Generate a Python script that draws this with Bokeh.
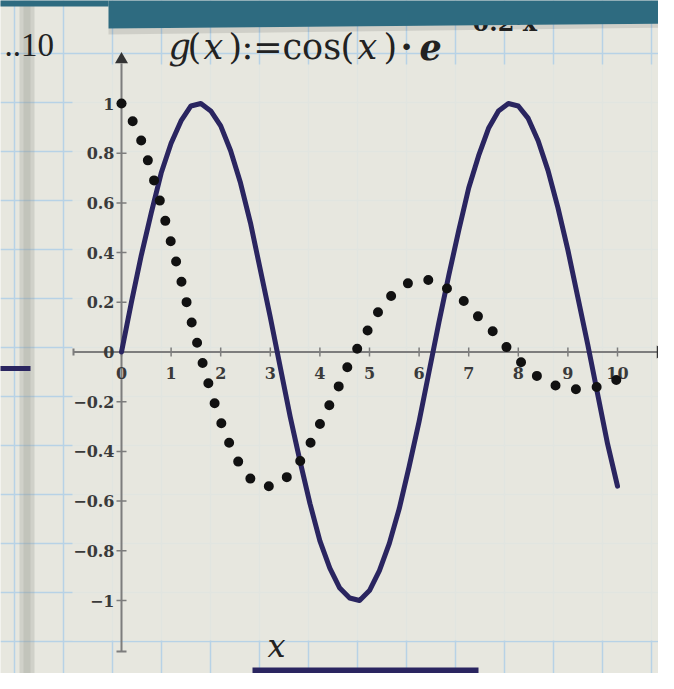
import numpy as np
from bokeh.plotting import figure
from bokeh.models import Range1d
from bokeh.core.properties import value
from bokeh.embed import file_html
from bokeh.resources import INLINE

# ---------------- data ----------------
x_vals = [0.0, 0.2, 0.4, 0.6, 0.8, 1.0, 1.2, 1.4, 1.6, 1.8,
          2.0, 2.2, 2.4, 2.6, 2.8, 3.0, 3.2, 3.4, 3.6, 3.8,
          4.0, 4.2, 4.4, 4.6, 4.8, 5.0, 5.2, 5.4, 5.6, 5.8,
          6.0, 6.2, 6.4, 6.6, 6.8, 7.0, 7.2, 7.4, 7.6, 7.8,
          8.0, 8.2, 8.4, 8.6, 8.8, 9.0, 9.2, 9.4, 9.6, 9.8, 10.0]
solid_vals = [0.00, 0.20, 0.39, 0.56, 0.72, 0.84, 0.93, 0.99, 1.00, 0.97,
              0.91, 0.81, 0.68, 0.52, 0.33, 0.14, -0.06, -0.26, -0.44, -0.61,
              -0.76, -0.87, -0.95, -0.99, -1.00, -0.96, -0.88, -0.77, -0.63, -0.46,
              -0.28, -0.08, 0.12, 0.31, 0.49, 0.66, 0.79, 0.90, 0.97, 1.00,
              0.99, 0.94, 0.85, 0.73, 0.58, 0.41, 0.22, 0.03, -0.17, -0.37, -0.54]
dotted_vals = [1.00, 0.94, 0.85, 0.73, 0.59, 0.44, 0.29, 0.13, -0.02, -0.16,
               -0.28, -0.38, -0.46, -0.51, -0.54, -0.54, -0.53, -0.49, -0.44, -0.37,
               -0.29, -0.21, -0.13, -0.04, 0.03, 0.10, 0.17, 0.22, 0.25, 0.28,
               0.29, 0.29, 0.28, 0.25, 0.22, 0.19, 0.14, 0.10, 0.06, 0.01,
               -0.03, -0.07, -0.10, -0.12, -0.14, -0.15, -0.15, -0.15, -0.14, -0.13, -0.11]
x_ticks = [0, 1, 2, 3, 4, 5, 6, 7, 8, 9, 10]
x_tick_labels = ["0", "1", "2", "3", "4", "5", "6", "7", "8", "9", "10"]
y_ticks = [1.0, 0.8, 0.6, 0.4, 0.2, 0.0, -0.2, -0.4, -0.6, -0.8, -1.0]
y_tick_labels = ["1", "0.8", "0.6", "0.4", "0.2", "0", "\u22120.2", "\u22120.4",
                 "\u22120.6", "\u22120.8", "\u22121"]

# ---------------- layout helpers ----------------
W, H = 658, 673
X0, SX = 121.0, 49.6     # reference pixel of x=0, pixels per unit
Y0, SY = 351.5, 248.5    # reference pixel of y=0, pixels per unit


def fx(px):
    return (px - X0) / SX


def fy(py):
    return (Y0 - py) / SY


PAPER = "#e7e7df"
GRIDC = "#b7d2e6"
NAVY = "#2a2560"
AXC = "#7d7d7d"
LBL = "#3a3a3a"
INK = "#222222"
SERIF = value("DejaVu Serif")

p = figure(width=W, height=H, output_backend="svg", toolbar_location=None,
           x_range=Range1d(fx(0), fx(W)), y_range=Range1d(fy(H), fy(0)),
           x_axis_location=None, y_axis_location=None, min_border=0)
p.grid.visible = False
p.outline_line_color = None
p.background_fill_color = PAPER
p.border_fill_color = PAPER

# graph-paper grid
gx = np.arange(14, 700, 49.0)
gy = np.arange(4, 700, 49.0)
p.segment(x0=[fx(v) for v in gx], y0=fy(0), x1=[fx(v) for v in gx], y1=fy(700),
          line_color=GRIDC, line_width=1.5)
p.segment(x0=fx(0), y0=[fy(v) for v in gy], x1=fx(700), y1=[fy(v) for v in gy],
          line_color=GRIDC, line_width=1.5)

# left shadow band of the sheet
p.quad(left=fx(19), right=fx(34), top=fy(0), bottom=fy(700),
       fill_color="#9d9e97", fill_alpha=0.30, line_color=None)
p.quad(left=fx(23), right=fx(30), top=fy(0), bottom=fy(700),
       fill_color="#8e8f88", fill_alpha=0.20, line_color=None)

# plot region (hides most of the grid)
p.quad(left=fx(72), right=fx(672), top=fy(64), bottom=fy(640),
       fill_color=PAPER, fill_alpha=0.88, line_color=None)

# exponent (mostly hidden by the banner)
p.text(x=[fx(452)], y=[fy(22)], text=["\u22120.2\u00b7x"], text_font=SERIF,
       text_font_size="24px", text_font_style="bold", text_color=INK,
       text_align="left", text_baseline="middle")

# teal banner on top
p.patch(x=[fx(108), fx(680), fx(680), fx(108)], y=[fy(-5), fy(-5), fy(23), fy(28)],
        fill_color="#2e6b80", line_color=None)
p.patch(x=[fx(108), fx(680), fx(680), fx(108)], y=[fy(28), fy(23), fy(27), fy(34)],
        fill_color="#000000", fill_alpha=0.10, line_color=None)
p.patch(x=[fx(-5), fx(108), fx(108), fx(-5)], y=[fy(-5), fy(-5), fy(6), fy(6)],
        fill_color="#2e6b80", line_color=None)

# title g(x) := cos(x)·e
pieces = [("g", 168, "italic"), ("(", 187, "normal"), ("x", 203, "italic"),
          (")", 228, "normal"), (":=", 241, "normal"), ("cos", 282, "normal"),
          ("(", 340, "normal"), ("x", 357, "italic"), (")", 383, "normal"),
          ("\u00b7", 400, "bold"), ("e", 419, "bold italic")]
for t, px, st in pieces:
    p.text(x=[fx(px)], y=[fy(46)], text=[t], text_font=SERIF, text_font_size="35px",
           text_font_style=st, text_color=INK, text_align="left",
           text_baseline="middle")

# "..10" fragment on the left
p.text(x=[fx(4)], y=[fy(44)], text=["..10"], text_font=value("Liberation Serif"),
       text_font_size="33px", text_color=INK, text_align="left",
       text_baseline="middle")

# axes
p.segment(x0=[fx(73)], y0=[0], x1=[fx(657)], y1=[0], line_color=AXC, line_width=2)
p.segment(x0=[0], y0=[fy(651)], x1=[0], y1=[fy(63)], line_color=AXC, line_width=2)
p.scatter(x=[fx(660)], y=[0], marker="triangle", angle=-np.pi / 2, size=13,
          fill_color="#333333", line_color=None)
p.scatter(x=[0], y=[fy(59)], marker="triangle", size=13,
          fill_color="#333333", line_color=None)
p.segment(x0=[fx(73)], y0=[fy(355)], x1=[fx(73)], y1=[fy(348)], line_color=AXC, line_width=2)
p.segment(x0=[fx(116)], y0=[fy(651)], x1=[fx(126)], y1=[fy(651)], line_color=AXC, line_width=2)

# ticks
p.segment(x0=x_ticks, y0=fy(356), x1=x_ticks, y1=fy(347), line_color=AXC, line_width=1.5)
p.segment(x0=fx(116), y0=y_ticks, x1=fx(126), y1=y_ticks, line_color=AXC, line_width=1.5)

# tick labels
p.text(x=x_ticks, y=fy(372), text=x_tick_labels, text_font=SERIF, text_font_size="16px",
       text_font_style="bold", text_color=LBL, text_align="center", text_baseline="middle")
p.text(x=fx(114), y=y_ticks, text=y_tick_labels, text_font=SERIF, text_font_size="16px",
       text_font_style="bold", text_color=LBL, text_align="right", text_baseline="middle")

# curves
p.line(x=x_vals, y=solid_vals, line_color=NAVY, line_width=5, line_join="round",
       line_cap="round")
p.line(x=x_vals, y=dotted_vals, line_color="#111111", line_width=10, line_dash="0 21",
       line_cap="round", line_join="round")

# legend (x with its two trace styles)
p.text(x=[fx(267)], y=[fy(645)], text=["x"], text_font=SERIF, text_font_size="32px",
       text_font_style="italic", text_color=INK, text_align="left",
       text_baseline="middle")
p.segment(x0=[fx(252)], y0=[fy(670)], x1=[fx(478)], y1=[fy(670)],
          line_color=NAVY, line_width=6)
p.segment(x0=[fx(257)], y0=[fy(688)], x1=[fx(470)], y1=[fy(688)],
          line_color="#111111", line_width=10, line_dash="0 21", line_cap="round")

# dark mark at the left edge
p.segment(x0=[fx(-5)], y0=[fy(368)], x1=[fx(30)], y1=[fy(368)],
          line_color=NAVY, line_width=5)

open("out.html", "w").write(file_html(p, INLINE))
